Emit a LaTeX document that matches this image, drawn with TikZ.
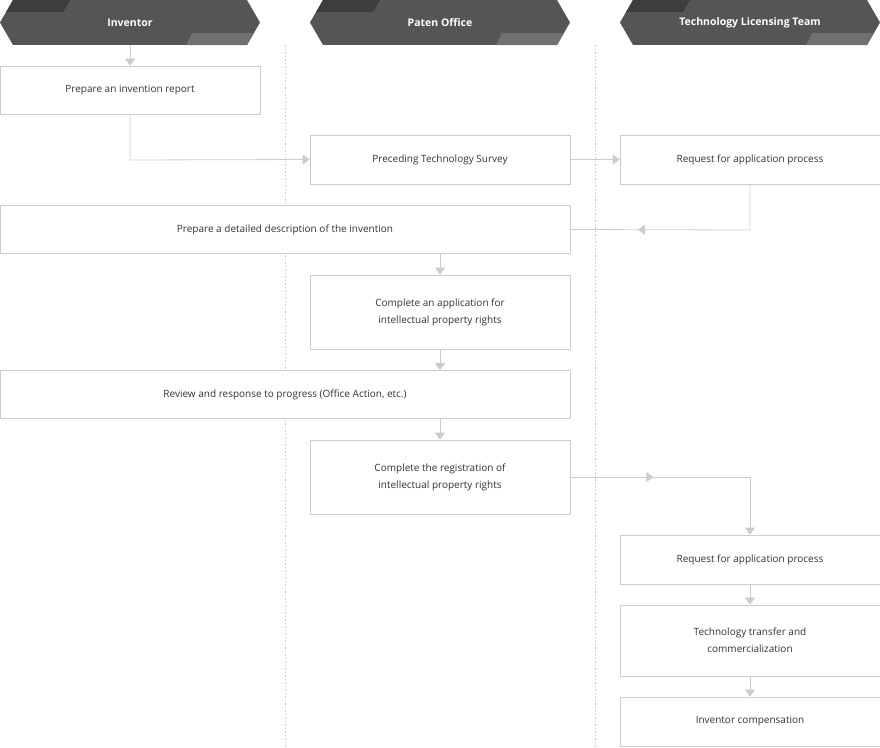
\documentclass[tikz,border=0pt]{standalone}
\usepackage{fontspec}
\setmainfont{Open Sans}
\usetikzlibrary{arrows.meta,decorations.markings}
\definecolor{hdr}{HTML}{555555}
\definecolor{hdrd}{HTML}{3D3D3D}
\definecolor{hdrl}{HTML}{707070}
\definecolor{ln}{HTML}{CCCCCC}
\definecolor{txt}{HTML}{333333}
\begin{document}
\begin{tikzpicture}[x=1pt,y=-1pt,
  box/.style={draw=ln,line width=0.8pt,fill=white,inner sep=0pt,align=center,text=txt,font=\fontsize{10}{17}\selectfont},
  conn/.style={draw=ln,line width=0.8pt},
  arr/.style={conn,-{Triangle[width=10pt,length=7pt]}},
  midarr/.style={conn,postaction={decorate},decoration={markings,mark=at position #1 with {\arrow{Triangle[width=10pt,length=7pt]}}}},
  lane/.style={draw=ln,line width=0.7pt,dash pattern=on 1.5pt off 2pt},
  htext/.style={text=white,font=\fontsize{10.5}{12}\selectfont\bfseries}]
\useasboundingbox (0,0) rectangle (880,747);
\foreach \x/\n/\t in {0/h1/Inventor,310/h2/Paten Office,620/h3/Technology Licensing Team}{
  \begin{scope}
    \clip (\x,22.5)--(\x+13,0)--(\x+247,0)--(\x+260,22.5)--(\x+247,45)--(\x+13,45)--cycle;
    \fill[hdr] (\x,0) rectangle (\x+260,45);
    \fill[hdrd] (\x,0)--(\x+70,0)--(\x+63,12)--(\x,12)--cycle;
    \fill[hdrl] (\x+192,33)--(\x+260,33)--(\x+260,45)--(\x+186,45)--cycle;
  \end{scope}
  \node[htext] (\n) at (\x+130,22.5) {\t};
}
\draw[lane] (285,45)--(285,747);
\draw[lane] (595,45)--(595,747);
\node[box,minimum width=260pt,minimum height=48pt] (report) at (130,90) {Prepare an invention report};
\node[box,minimum width=260pt,minimum height=49pt] (pre) at (440,159.5) {Preceding Technology Survey};
\node[box,minimum width=260pt,minimum height=49pt] (req1) at (750,159.5) {Request for application process};
\node[box,minimum width=570pt,minimum height=48pt] (det) at (285,229.5) {Prepare a detailed description of the invention};
\node[box,minimum width=260pt,minimum height=74pt] (app) at (440,312) {Complete an application for\\intellectual property rights};
\node[box,minimum width=570pt,minimum height=48pt] (rev) at (285,394.5) {Review and response to progress (Office Action, etc.)};
\node[box,minimum width=260pt,minimum height=74pt] (reg) at (440,477) {Complete the registration of\\intellectual property rights};
\node[box,minimum width=260pt,minimum height=49pt] (req2) at (750,559.5) {Request for application process};
\node[box,minimum width=260pt,minimum height=71pt] (tt) at (750,640.5) {Technology transfer and\\commercialization};
\node[box,minimum width=260pt,minimum height=49pt] (comp) at (750,721.5) {Inventor compensation};
\coordinate (a1) at (130,160);
\coordinate (a2) at (750,230);
\coordinate (a3) at (750,477);
\draw[arr] (h1.south |- 0,45) -- (report.north);
\draw[arr] (report.south) -- (a1) -- (pre.west);
\draw[arr] (pre.east) -- (req1.west);
\draw[midarr=0.7] (req1.south) -- (a2) -- (det.east);
\draw[arr] (det.south -| app.north) -- (app.north);
\draw[arr] (app.south) -- (rev.north -| app.south);
\draw[arr] (rev.south -| reg.north) -- (reg.north);
\draw[midarr=0.35,-{Triangle[width=10pt,length=7pt]}] (reg.east) -- (a3) -- (req2.north);
\draw[arr] (req2.south) -- (tt.north);
\draw[arr] (tt.south) -- (comp.north);
\end{tikzpicture}
\end{document}
